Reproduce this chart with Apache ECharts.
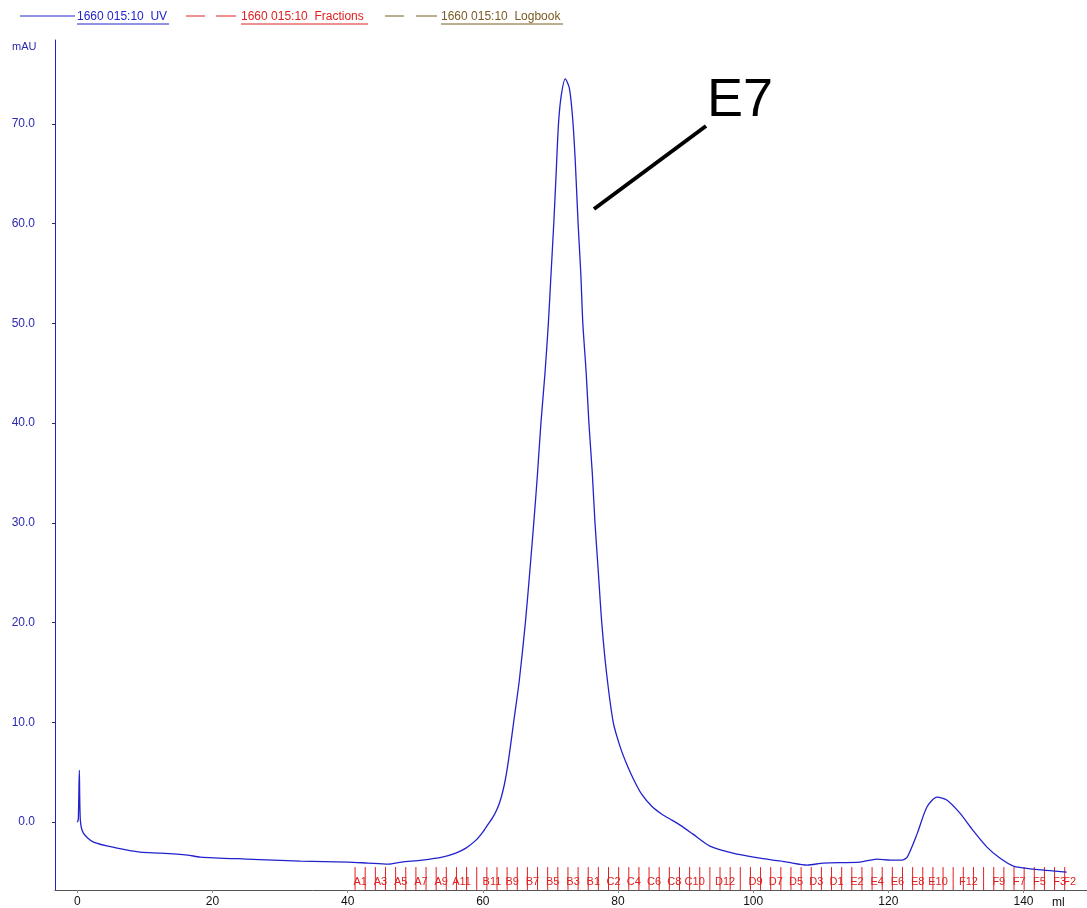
<!DOCTYPE html>
<html>
<head>
<meta charset="utf-8">
<script src="https://cdn.jsdelivr.net/npm/echarts@6/dist/echarts.min.js"></script>
<style>
html,body{margin:0;padding:0;background:#fff;}
#chart{width:1087px;height:908px;}
</style>
</head>
<body>
<div id="chart"></div>
<script>
// UV trace (ml, mAU)
const volume = [0.0,0.15,0.3,0.45,0.9,2.4,5.9,9.3,12.3,16.3,18.2,25,33,40,43,46,48,51,54,56,57.5,59,60,60.8,61.5,62.1,62.6,63.2,63.8,64.6,65.4,66.3,67.0,67.6,68.1,68.6,69.2,69.7,70.1,70.5,70.85,71.2,71.6,72.2,72.8,73.3,73.7,74.1,74.5,74.8,75.3,75.7,76.2,76.6,77.1,77.6,78.3,79.3,80.3,81.3,82.3,83.5,85.0,86.5,88.0,89.2,91.1,93.6,97.0,101.0,105.0,108.0,110.4,115.8,118.3,120.3,122.0,122.8,124.3,125.7,127.2,128.7,130.6,132.5,134.6,136.5,138.5,141.4,146.4];
const absorbance = [0.0,0.3,5.2,0.2,-1.1,-2.0,-2.6,-3.0,-3.1,-3.3,-3.5,-3.7,-3.9,-4.0,-4.1,-4.2,-4.0,-3.8,-3.5,-3.1,-2.6,-1.8,-1.0,-0.2,0.5,1.3,2.2,3.8,6.2,10.2,14.2,20,25.5,30.5,35,40,45,50,55,60,65,70,72.8,74.5,73.6,70.5,66,60,55,50,45,40,35,30,25,20,15,10,7.6,5.8,4.3,2.8,1.6,0.8,0.2,-0.3,-1.2,-2.4,-3.1,-3.6,-4.0,-4.3,-4.1,-4.0,-3.7,-3.8,-3.8,-3.5,-1.1,1.5,2.5,2.2,0.9,-0.8,-2.5,-3.6,-4.4,-4.7,-5.0];

// Fractions
const fractionNames = ['A1','A2','A3','A4','A5','A6','A7','A8','A9','A10','A11','A12',
  'B12','B11','B10','B9','B8','B7','B6','B5','B4','B3','B2','B1',
  'C1','C2','C3','C4','C5','C6','C7','C8','C9','C10','C11','C12',
  'D12','D11','D10','D9','D8','D7','D6','D5','D4','D3','D2','D1',
  'E1','E2','E3','E4','E5','E6','E7','E8','E9','E10','E11','E12',
  'F12','F11','F10','F9','F8','F7','F6','F5','F4','F3','F2'];
const fractionStarts = [41.1,42.6,44.1,45.6,47.1,48.6,50.1,51.6,53.1,54.6,56.1,57.6,
  59.1,60.6,62.1,63.6,65.1,66.6,68.1,69.6,71.1,72.6,74.1,75.6,
  77.1,78.6,80.1,81.6,83.1,84.6,86.1,87.6,89.1,90.6,92.1,93.6,
  95.1,96.6,98.1,99.6,101.1,102.6,104.1,105.6,107.1,108.6,110.1,111.6,
  113.1,114.6,116.1,117.6,119.1,120.6,122.1,123.6,125.1,126.6,128.1,129.6,
  131.1,132.6,134.1,135.6,137.1,138.6,140.1,141.6,143.1,144.6,146.1];
const shownLabels = ['A1','A3','A5','A7','A9','A11','B11','B9','B7','B5','B3','B1',
  'C2','C4','C6','C8','C10','D12','D9','D7','D5','D3','D1','E2','E4','E6','E8','E10',
  'F12','F9','F7','F5','F3','F2'];

const xTicks = [0,20,40,60,80,100,120,140];
const yTicks = [0,10,20,30,40,50,60,70];
const legendNames = ['1660 015:10  UV','1660 015:10  Fractions','1660 015:10  Logbook'];

const X_MIN = -3.3, X_MAX = 149.4, Y_MIN = -6.8, Y_MAX = 78.4;
const BLUE = '#2222cc', RED = '#e02020', BROWN = '#7a5a22';

const chart = echarts.init(document.getElementById('chart'), null, {renderer:'canvas'});

const fracData = fractionStarts.map((s, i) => [s, Y_MIN, i]);

const option = {
  animation: false,
  backgroundColor: '#fff',
  grid: {left: 55, right: 0, top: 40, bottom: 18, containLabel: false, outerBoundsMode: 'none'},
  xAxis: {
    type: 'value', min: X_MIN, max: X_MAX,
    axisLine: {onZero: false, lineStyle: {color: '#555', width: 1}},
    axisTick: {show: true, length: 3, customValues: xTicks, lineStyle: {color: '#888'}},
    axisLabel: {customValues: xTicks, color: '#111', fontSize: 12, fontFamily: 'Liberation Sans, Arial', margin: 6},
    splitLine: {show: false}
  },
  yAxis: {
    type: 'value', min: Y_MIN, max: Y_MAX,
    axisLine: {show: true, onZero: false, lineStyle: {color: BLUE, width: 1}},
    axisTick: {show: true, length: 3, customValues: yTicks, lineStyle: {color: '#333'}},
    axisLabel: {customValues: yTicks, color: '#2a2ab0', fontSize: 12, fontFamily: 'Liberation Sans, Arial', margin: 20,
      formatter: v => v.toFixed(1)},
    splitLine: {show: false}
  },
  series: [
    {
      name: legendNames[0],
      type: 'line',
      data: volume.map((v, i) => [v, absorbance[i]]),
      showSymbol: false,
      smooth: 0.25,
      lineStyle: {color: BLUE, width: 1.3},
      z: 3
    },
    {
      name: legendNames[1],
      type: 'custom',
      data: fracData,
      z: 2,
      renderItem: function (params, api) {
        const x = api.value(0);
        const idx = api.value(2);
        const name = fractionNames[idx];
        const p0 = api.coord([x, Y_MIN]);
        const p1 = api.coord([x, -4.5]);
        const children = [{
          type: 'line',
          shape: {x1: p0[0], y1: p0[1], x2: p1[0], y2: p1[1]},
          style: {stroke: RED, lineWidth: 1}
        }];
        if (shownLabels.indexOf(name) >= 0) {
          const pt = api.coord([x + 0.75, -6.0]);
          children.push({
            type: 'text',
            x: pt[0], y: pt[1],
            style: {text: name, fill: RED, font: '11px Liberation Sans, Arial', align: 'center', verticalAlign: 'middle'}
          });
        }
        return {type: 'group', children: children};
      }
    }
  ],
  graphic: [
    // legend
    {type: 'line', shape: {x1: 20, y1: 16, x2: 75, y2: 16}, style: {stroke: BLUE, lineWidth: 1}},
    {type: 'text', x: 77, y: 17, style: {text: legendNames[0], fill: BLUE, font: '12px Liberation Sans, Arial', verticalAlign: 'middle'}},
    {type: 'line', shape: {x1: 77, y1: 24, x2: 169, y2: 24}, style: {stroke: BLUE, lineWidth: 1}},
    {type: 'line', shape: {x1: 186, y1: 16, x2: 205, y2: 16}, style: {stroke: RED, lineWidth: 1}},
    {type: 'line', shape: {x1: 216, y1: 16, x2: 236, y2: 16}, style: {stroke: RED, lineWidth: 1}},
    {type: 'text', x: 241, y: 17, style: {text: legendNames[1], fill: RED, font: '12px Liberation Sans, Arial', verticalAlign: 'middle'}},
    {type: 'line', shape: {x1: 241, y1: 24, x2: 368, y2: 24}, style: {stroke: RED, lineWidth: 1}},
    {type: 'line', shape: {x1: 385, y1: 16, x2: 404, y2: 16}, style: {stroke: BROWN, lineWidth: 1}},
    {type: 'line', shape: {x1: 416, y1: 16, x2: 437, y2: 16}, style: {stroke: BROWN, lineWidth: 1}},
    {type: 'text', x: 441, y: 17, style: {text: legendNames[2], fill: BROWN, font: '12px Liberation Sans, Arial', verticalAlign: 'middle'}},
    {type: 'line', shape: {x1: 441, y1: 24, x2: 563, y2: 24}, style: {stroke: BROWN, lineWidth: 1}},
    // axis units
    {type: 'text', x: 12, y: 47, style: {text: 'mAU', fill: '#2a2ab0', font: '11px Liberation Sans, Arial', verticalAlign: 'middle'}},
    {type: 'text', x: 1052, y: 903, style: {text: 'ml', fill: '#111', font: '12px Liberation Sans, Arial', verticalAlign: 'middle'}},
    // annotation
    {type: 'line', shape: {x1: 706, y1: 126, x2: 594, y2: 209}, style: {stroke: '#000', lineWidth: 4}},
    {type: 'text', x: 740, y: 101, style: {text: 'E7', fill: '#000', font: '54px Liberation Sans, Arial', align: 'center', verticalAlign: 'middle'}}
  ]
};
chart.setOption(option);
</script>
</body>
</html>
